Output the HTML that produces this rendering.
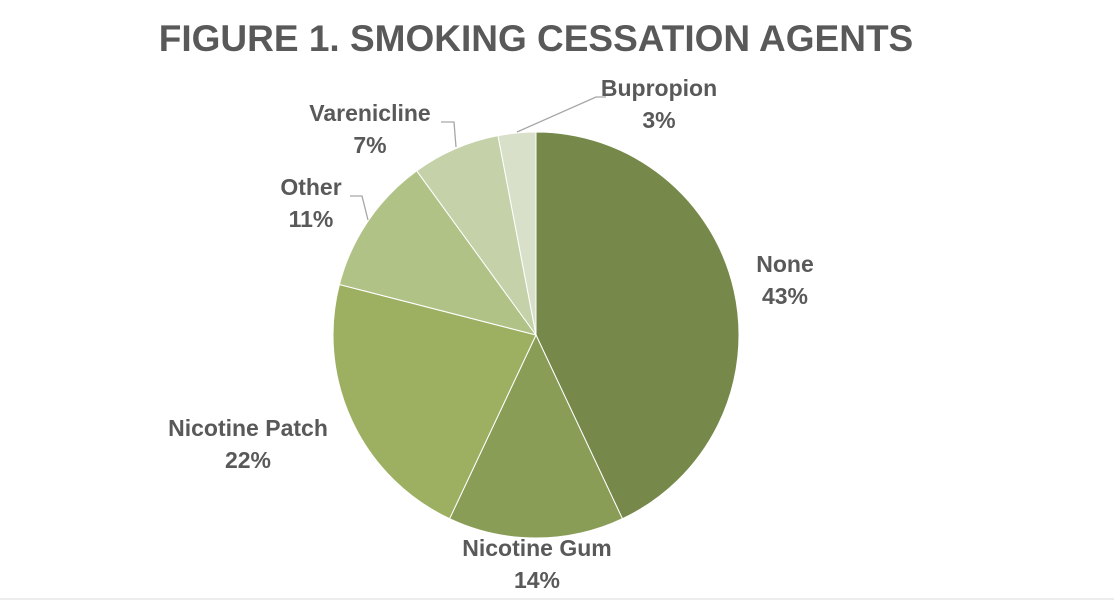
<!DOCTYPE html>
<html><head><style>
body{margin:0;background:#fff;width:1114px;height:602px;overflow:hidden;font-family:"Liberation Sans",sans-serif;}
</style></head><body>
<svg width="1114" height="602" xmlns="http://www.w3.org/2000/svg" font-family="Liberation Sans, sans-serif" font-weight="bold" fill="#595959">
<text x="536" y="51" text-anchor="middle" font-size="37" fill="#595959">FIGURE 1. SMOKING CESSATION AGENTS</text>
<g stroke="#fff" stroke-width="1">
<path d="M536,335 L536,132 A203,203 0 0 1 622.4,518.7 Z" fill="#76894a"/>
<path d="M536,335 L622.4,518.7 A203,203 0 0 1 449.6,518.7 Z" fill="#899d57"/>
<path d="M536,335 L449.6,518.7 A203,203 0 0 1 339.4,284.5 Z" fill="#9db061"/>
<path d="M536,335 L339.4,284.5 A203,203 0 0 1 416.7,170.8 Z" fill="#b0c286"/>
<path d="M536,335 L416.7,170.8 A203,203 0 0 1 498,135.6 Z" fill="#c5d2a9"/>
<path d="M536,335 L498,135.6 A203,203 0 0 1 536,132 Z" fill="#d9e0c9"/>
</g>
<g stroke="#a6a6a6" stroke-width="1.3" fill="none">
<polyline points="517,132 596,97 606,97"/>
<polyline points="441,122 454,122 456,147"/>
<polyline points="350,196 362,196 368,220"/>
</g>
<g font-size="23" text-anchor="middle">
<text x="659" y="96">Bupropion</text><text x="659" y="128">3%</text>
<text x="370" y="121">Varenicline</text><text x="370" y="153">7%</text>
<text x="311" y="195">Other</text><text x="311" y="227">11%</text>
<text x="785" y="272">None</text><text x="785" y="304">43%</text>
<text x="248" y="436">Nicotine Patch</text><text x="248" y="468">22%</text>
<text x="537" y="556">Nicotine Gum</text><text x="537" y="588">14%</text>
</g>
<line x1="0" y1="599" x2="1114" y2="599" stroke="#d9d9d9" stroke-width="1"/>
</svg>
</body></html>
